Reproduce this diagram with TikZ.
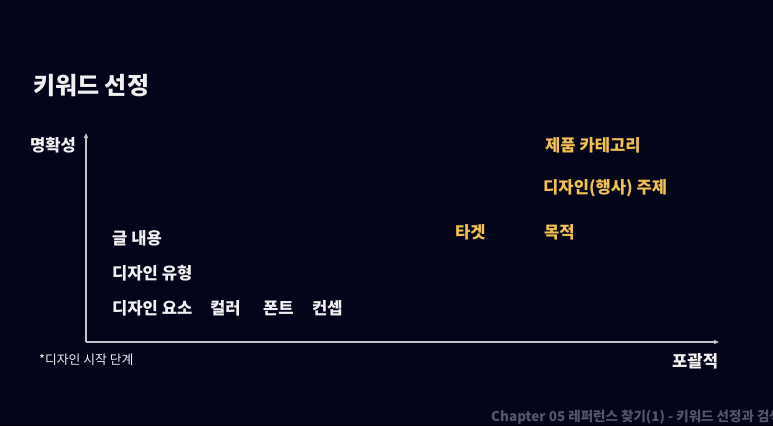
\documentclass[tikz,border=0pt]{standalone}
\usepackage{fontspec}
\setmainfont{Noto Sans CJK KR}
\usetikzlibrary{positioning}
\usetikzlibrary{arrows.meta}

\definecolor{slidebg}{HTML}{03031A}
\definecolor{keyyellow}{HTML}{F0C052}
\definecolor{axisgray}{HTML}{C4C4C8}
\definecolor{footgray}{HTML}{55556A}

\begin{document}
\begin{tikzpicture}[x=1pt,y=-1pt,
	word/.style={text=white!94!black, font=\bfseries\fontsize{16.6}{19}\selectfont, anchor=west, inner sep=0pt},
	target/.style={word, text=keyyellow},
	axis/.style={draw=axisgray, line width=1.1pt, -{Triangle[length=5pt,width=4pt]}}]
	\useasboundingbox[fill=slidebg] (0,0) rectangle (773,426);
	\node[word, font=\bfseries\fontsize{24}{28}\selectfont] (title) at (33,86) {키워드 선정};
	\node[word] (clarity) at (30,145) {명확성};
	\node[word] (scope) at (672,361) {포괄적};
	\coordinate (origin) at (86,342);
	\coordinate (ytop) at (86,133);
	\coordinate (xend) at (719,342);

	\node[word] (content) at (112,238) {글 내용};
	\node[word] (dtype) at (112,273) {디자인 유형};
	\node[word] (delement) at (112,308) {디자인 요소};
	\node[word] (color) at (210,308) {컬러};
	\node[word] (typeface) at (263,308) {폰트};
	\node[word] (concept) at (312,308) {컨셉};
	\node[word, font=\fontsize{12.8}{15}\selectfont] (note) at (39,360) {*디자인 시작 단계};

	\node[target] (category) at (545,145) {제품 카테고리};
	\node[target] (theme) at (543,188) {디자인(행사) 주제};
	\node[target] (audience) at (455,232) {타겟};
	\node[target] (purpose) at (544,232) {목적};

	\node[word, text=footgray, font=\bfseries\fontsize{13.5}{16}\selectfont] (footer) at (491,417) {Chapter 05 레퍼런스 찾기(1) - 키워드 선정과 검색};

	\draw[axis] (origin) -- (ytop);
	\draw[axis] (origin) -- (xend);
  \end{tikzpicture}
\end{document}
